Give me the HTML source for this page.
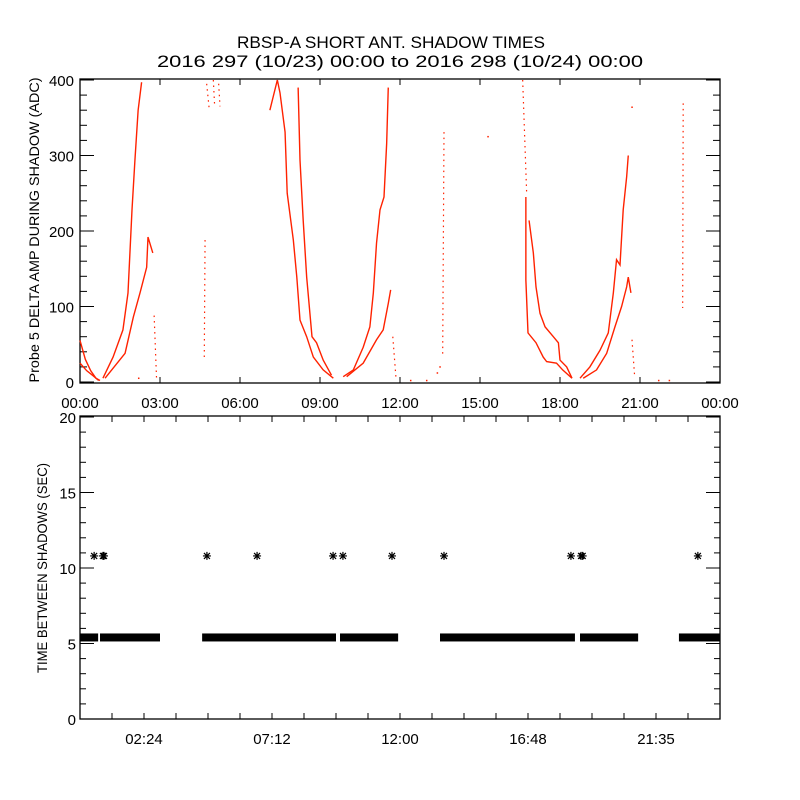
<!DOCTYPE html>
<html><head><meta charset="utf-8"><style>
html,body{margin:0;padding:0;background:#fff;}
svg{display:block;font-family:"Liberation Sans",sans-serif;}
</style></head><body>
<svg id="chart" width="800" height="800" viewBox="0 0 800 800">
<rect width="800" height="800" fill="#fff"/>
<text x="391" y="48" font-size="17" text-anchor="middle" textLength="308" lengthAdjust="spacingAndGlyphs">RBSP-A SHORT ANT. SHADOW TIMES</text>
<text x="400" y="67" font-size="17" text-anchor="middle" textLength="486" lengthAdjust="spacingAndGlyphs">2016 297 (10/23) 00:00 to 2016 298 (10/24) 00:00</text>
<g id="topPanel"></g>
<g id="botPanel"></g>
</svg>
<script>
// ---- data (hours, value) ----
const solidTraces = [
 [[0,55],[0.2,30],[0.4,15],[0.6,5],[0.75,2]],
 [[0,25],[0.25,15],[0.5,8],[0.7,2]],
 [[0.86,5],[1.24,33],[1.61,69],[1.8,118],[1.95,228],[2.06,294],[2.18,360],[2.31,397]],
 [[0.94,5],[1.69,38],[2.0,86],[2.25,118],[2.5,152],[2.55,192],[2.73,171]],
 [[7.12,360],[7.4,400],[7.5,383],[7.69,331],[7.77,250],[8.0,188],[8.13,139],[8.25,82],[8.5,60],[8.75,33],[9.12,16],[9.5,5]],
 [[8.18,390],[8.25,294],[8.37,214],[8.5,139],[8.7,60],[8.87,52],[9.12,29],[9.43,9]],
 [[9.87,7],[10.25,16],[10.62,46],[10.87,73],[11.0,118],[11.12,184],[11.25,228],[11.4,245],[11.5,316],[11.56,390]],
 [[10.0,7],[10.62,25],[11.12,56],[11.37,69],[11.56,104],[11.65,122]],
 [[16.72,245],[16.72,135],[16.8,65],[17.1,52],[17.37,33],[17.5,27],[17.87,25],[18.1,16],[18.45,5]],
 [[16.84,214],[17.0,171],[17.1,126],[17.25,91],[17.44,73],[17.75,60],[17.94,52],[18.0,29],[18.25,20],[18.45,5]],
 [[18.75,5],[19.12,20],[19.5,42],[19.81,65],[20.0,118],[20.12,162],[20.25,155],[20.37,228],[20.5,272],[20.56,300]],
 [[18.87,5],[19.37,16],[19.75,38],[20.06,73],[20.31,100],[20.5,126],[20.56,139],[20.66,118]]
];
const sparseTraces = [
 [[2.78,88],[2.87,5]],
 [[4.69,188],[4.66,30]],
 [[4.75,395],[4.85,360]],[[5.0,400],[5.05,365]],[[5.2,395],[5.25,365]],
 [[16.6,400],[16.75,250]],
 [[11.73,60],[11.85,5]],
 [[13.65,331],[13.6,34]],
 [[20.7,56],[20.8,7]],
 [[22.62,369],[22.6,98]]
];
const isolatedPoints = [[2.2,5],[15.3,325],[20.7,364],[21.7,2],[22.1,2],[12.4,2],[13.0,2],[13.5,20],[13.4,12]];
// bottom panel
const bandSegments = [[0,0.68],[0.75,3.0],[4.58,9.6],[9.75,11.93],[13.5,18.56],[18.75,20.93],[22.46,24]];
const bandValue = 5.4;
const starTimes = [0.53,0.86,0.9,4.76,6.64,9.49,9.86,11.7,13.65,18.41,18.79,18.85,23.17];
const starValue = 10.8;
const topXTicks = ["00:00","03:00","06:00","09:00","12:00","15:00","18:00","21:00","00:00"];
const topYTicks = [0,100,200,300,400];
const botXTicks = ["02:24","07:12","12:00","16:48","21:35"];
const botXTickHours = [2.4,7.2,12,16.8,21.6];
const botYTicks = [0,5,10,15,20];

const NS="http://www.w3.org/2000/svg";
function mk(parent,tag,attrs){const e=document.createElementNS(NS,tag);for(const k in attrs)e.setAttribute(k,attrs[k]);parent.appendChild(e);return e;}
const L=80,R=720;
const xs=h=>L+h*(R-L)/24;
const ty=v=>382-v*0.755;
const by=v=>719-v*(719-417)/20;
const topG=document.getElementById('topPanel'),botG=document.getElementById('botPanel');

// ---- top panel axes ----
let f=mk(topG,'rect',{x:L,y:79,width:R-L,height:304,fill:'none',stroke:'#000','stroke-width':1.3});


for(let v=0;v<=400;v+=20){const y=ty(v);const len=v%100===0?14:7;
 mk(topG,'line',{x1:L,y1:y,x2:L+len,y2:y,stroke:'#000'});mk(topG,'line',{x1:R,y1:y,x2:R-len,y2:y,stroke:'#000'});}
topYTicks.forEach(v=>{const t=mk(topG,'text',{x:74,y:ty(v)+6,'font-size':15,'text-anchor':'end'});t.textContent=v;
 
 });
topXTicks.forEach((s,i)=>{const x=xs(i*3);
 mk(topG,'line',{x1:x,y1:383,x2:x,y2:377,stroke:'#000'});mk(topG,'line',{x1:x,y1:79,x2:x,y2:85,stroke:'#000'});
 const t=mk(topG,'text',{x:x,y:408,'font-size':15,'text-anchor':'middle'});t.textContent=s;
 
 });
let yl=mk(topG,'text',{x:0,y:0,'font-size':14,'text-anchor':'middle',transform:'translate(39,230) rotate(-90)',textLength:305,lengthAdjust:'spacingAndGlyphs'});
yl.textContent='Probe 5 DELTA AMP DURING SHADOW (ADC)';



// ---- red data ----
const red='#ff2200';
solidTraces.forEach(tr=>{const p=mk(topG,'polyline',{points:tr.map(d=>xs(d[0])+','+ty(d[1])).join(' '),fill:'none',stroke:red,'stroke-width':1.4});
 
 });
sparseTraces.forEach(tr=>{const p=mk(topG,'polyline',{points:tr.map(d=>xs(d[0])+','+ty(d[1])).join(' '),fill:'none',stroke:red,'stroke-width':1.2,'stroke-dasharray':'1.5 4'});
 
 });
isolatedPoints.forEach(d=>{const r=mk(topG,'rect',{x:xs(d[0])-0.7,y:ty(d[1])-0.7,width:1.5,height:1.5,fill:red});
 
 });

// ---- bottom panel axes ----
f=mk(botG,'rect',{x:L,y:416,width:R-L,height:303,fill:'none',stroke:'#000','stroke-width':1.3});


for(let v=0;v<=20;v+=1){const y=by(v);const len=v%5===0?14:6;
 mk(botG,'line',{x1:L,y1:y,x2:L+len,y2:y,stroke:'#000'});mk(botG,'line',{x1:R,y1:y,x2:R-len,y2:y,stroke:'#000'});}
botYTicks.forEach(v=>{const t=mk(botG,'text',{x:76,y:by(v)+6,'font-size':15,'text-anchor':'end'});t.textContent=v;
 
 });
for(let i=0;i<=20;i++){const x=L+i*32;
 mk(botG,'line',{x1:x,y1:719,x2:x,y2:713,stroke:'#000'});mk(botG,'line',{x1:x,y1:416,x2:x,y2:422,stroke:'#000'});}
botXTicks.forEach((s,i)=>{const x=xs(botXTickHours[i]);
 const t=mk(botG,'text',{x:x,y:744,'font-size':15,'text-anchor':'middle'});t.textContent=s;
 
 });
yl=mk(botG,'text',{x:0,y:0,'font-size':14,'text-anchor':'middle',transform:'translate(47,568) rotate(-90)',textLength:210,lengthAdjust:'spacingAndGlyphs'});
yl.textContent='TIME BETWEEN SHADOWS (SEC)';



bandSegments.forEach(s=>{const r=mk(botG,'rect',{x:xs(s[0]),y:by(bandValue)-4,width:xs(s[1])-xs(s[0]),height:8,fill:'#000'});
 
 });
starTimes.forEach(h=>{const x=xs(h),y=by(starValue);
 const g=mk(botG,'path',{d:`M${x-4} ${y}H${x+4}M${x} ${y-4}V${y+4}M${x-3} ${y-3}L${x+3} ${y+3}M${x-3} ${y+3}L${x+3} ${y-3}`,stroke:'#000','stroke-width':1.2});
 
 });
</script>
</body></html>
